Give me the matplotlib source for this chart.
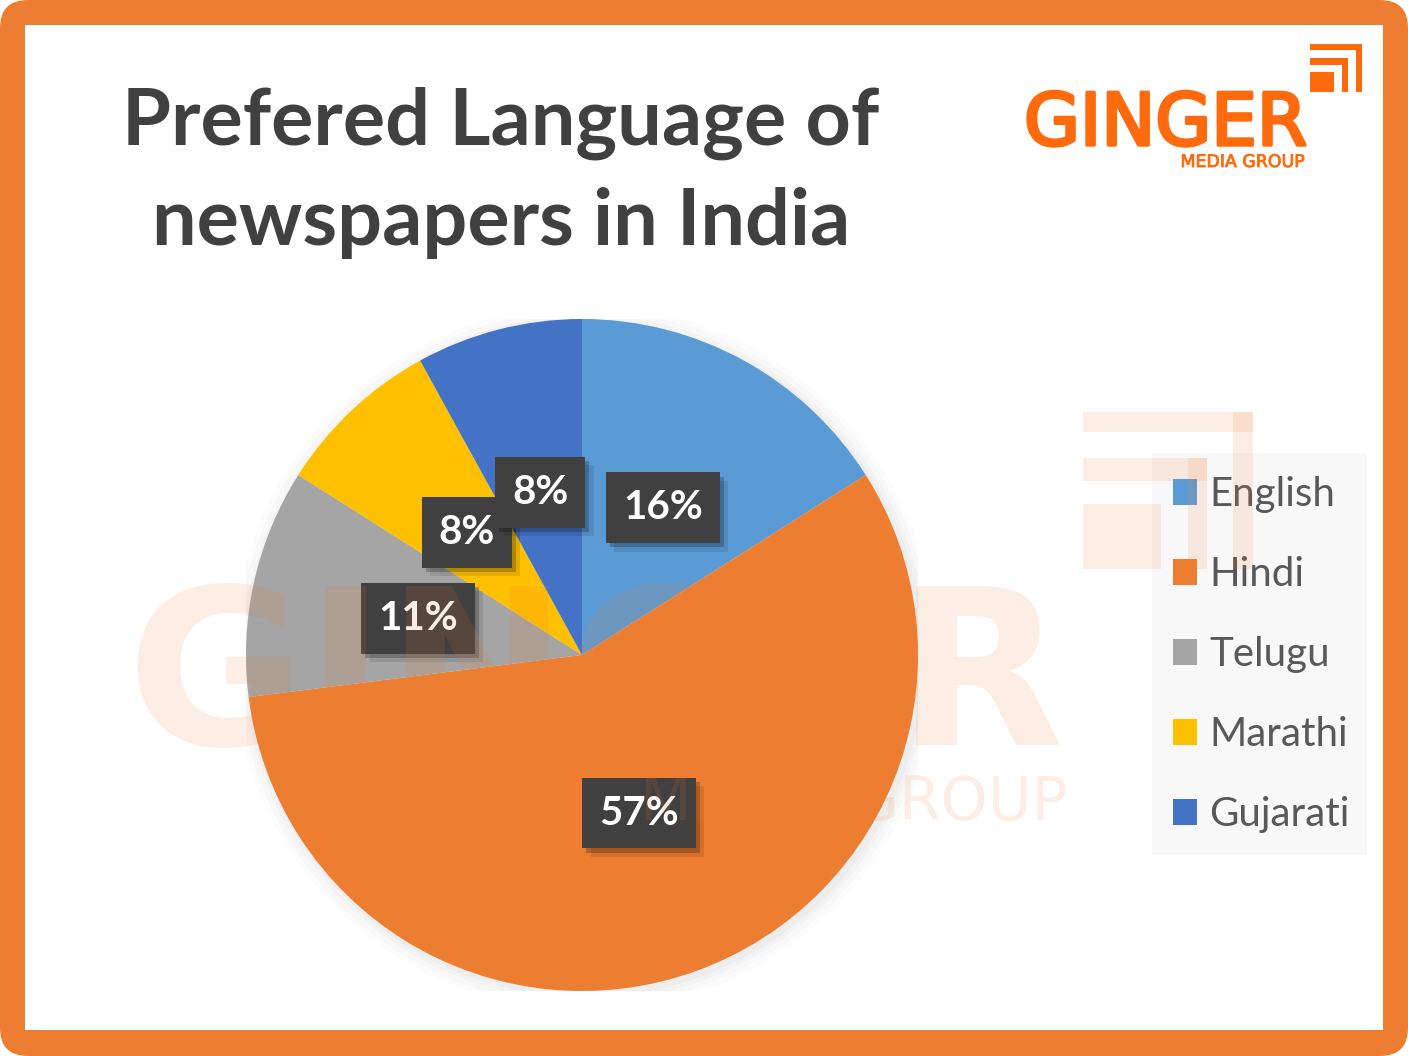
import matplotlib
matplotlib.use("Agg")
import matplotlib.pyplot as plt
from matplotlib.patches import FancyBboxPatch, Rectangle, Circle
from matplotlib import patheffects as pe

# data
languages = ["English", "Hindi", "Telugu", "Marathi", "Gujarati"]
shares = [16, 57, 11, 8, 8]
colors = ["#5B9BD5", "#ED7D31", "#A5A5A5", "#FFC000", "#4472C4"]
title_lines = ["Prefered Language of", "newspapers in India"]
brand = "GINGER"
brand_sub = "MEDIA GROUP"

W, H = 1408, 1056
fig = plt.figure(figsize=(W / 100, H / 100), dpi=100)
fig.patch.set_facecolor("white")

# background axes in pixel coordinates
ax_bg = fig.add_axes([0, 0, 1, 1], zorder=0)
ax_bg.set_xlim(0, W)
ax_bg.set_ylim(H, 0)
ax_bg.axis("off")

ax_bg.add_patch(FancyBboxPatch((0, 0), W, H, boxstyle="round,pad=0,rounding_size=28",
                               fc="#ED7D31", ec="none"))
ax_bg.add_patch(Rectangle((25, 25), 1358, 1005, fc="white", ec="none"))

# title
for i, line in enumerate(title_lines):
    ax_bg.text(501, 145 + i * 100, line, ha="center", va="baseline",
               fontsize=57, fontweight="bold", family="Lato", color="#404040")

# logo
logo_col = "#FF6A0D"
ax_bg.text(1024, 145, brand, ha="left", va="baseline", fontsize=52,
           family="DejaVu Sans", color=logo_col,
           path_effects=[pe.withStroke(linewidth=2.5, foreground=logo_col)])
ax_bg.text(1305, 167, brand_sub, ha="right", va="baseline", fontsize=12.5,
           family="DejaVu Sans", color=logo_col,
           path_effects=[pe.withStroke(linewidth=0.6, foreground=logo_col)])

# icon pieces (x0, y0, x1, y1) in a 52x48 box
icon = [(0, 0, 52, 6), (46, 0, 52, 48), (0, 14, 38, 21), (32, 14, 38, 48), (0, 28, 24, 48)]


def draw_icon(ax, x, y, s, **kw):
    for x0, y0, x1, y1 in icon:
        ax.add_patch(Rectangle((x + x0 * s, y + y0 * s), (x1 - x0) * s, (y1 - y0) * s, **kw))


draw_icon(ax_bg, 1310, 44, 1.0, fc=logo_col, ec="none")

# legend background
ax_bg.add_patch(Rectangle((1152, 453), 215, 402, fc="#F8F8F8", ec="none"))

# pie
cx, cy, r = 582, 655, 336
ax = fig.add_axes([(cx - r) / W, (H - cy - r) / H, 2 * r / W, 2 * r / H], zorder=1)
ax.set_facecolor("none")
for rr, a in [(1.05, 0.025), (1.035, 0.03), (1.02, 0.04), (1.008, 0.05)]:
    ax.add_patch(Circle((0.01, -0.01), rr, fc="#808080", ec="none", alpha=a, zorder=0))

wedges, texts, autotexts = ax.pie(
    shares, colors=colors, startangle=90, counterclock=False,
    autopct=lambda p: f"{p:.0f}%", pctdistance=0.5,
    wedgeprops=dict(linewidth=0), textprops=dict(family="Lato"))
ax.set_xlim(-1, 1)
ax.set_ylim(-1, 1)
ax.set_aspect("equal")

for t in autotexts:
    t.set_fontsize(29)
    t.set_fontweight("bold")
    t.set_color("white")
    t.set_zorder(5)
    t.set_bbox(dict(boxstyle="square,pad=0.42", fc="#404040", ec="none", lw=0))
    t.get_bbox_patch().set_path_effects(
        [pe.SimplePatchShadow(offset=(3, -3), shadow_rgbFace="black", alpha=0.22),
         pe.SimplePatchShadow(offset=(6, -6), shadow_rgbFace="black", alpha=0.1),
         pe.Normal()])

leg = ax_bg.legend(wedges, languages, loc="upper left",
                   bbox_to_anchor=(1173 / W, 1 - 476 / H), bbox_transform=fig.transFigure,
                   frameon=False, prop=dict(family="Lato", size=29), labelcolor="#595959",
                   handlelength=0.6, handleheight=0.6, handletextpad=0.3,
                   labelspacing=1.07, borderpad=0, borderaxespad=0)

# watermark overlay
wm_col = "#ED7D31"
ax_wm = fig.add_axes([0, 0, 1, 1], zorder=3)
ax_wm.set_xlim(0, W)
ax_wm.set_ylim(H, 0)
ax_wm.axis("off")
ax_wm.patch.set_alpha(0)
ax_wm.text(126, 745, brand, ha="left", va="baseline", fontsize=157, fontweight="bold",
           family="DejaVu Sans", color=wm_col, alpha=0.13)
ax_wm.text(1068, 820, brand_sub, ha="right", va="baseline", fontsize=43,
           family="DejaVu Sans", color=wm_col, alpha=0.13)
draw_icon(ax_wm, 1083, 412, 3.27, fc=wm_col, ec="none", alpha=0.13)

fig.savefig("out.png", dpi=100)
